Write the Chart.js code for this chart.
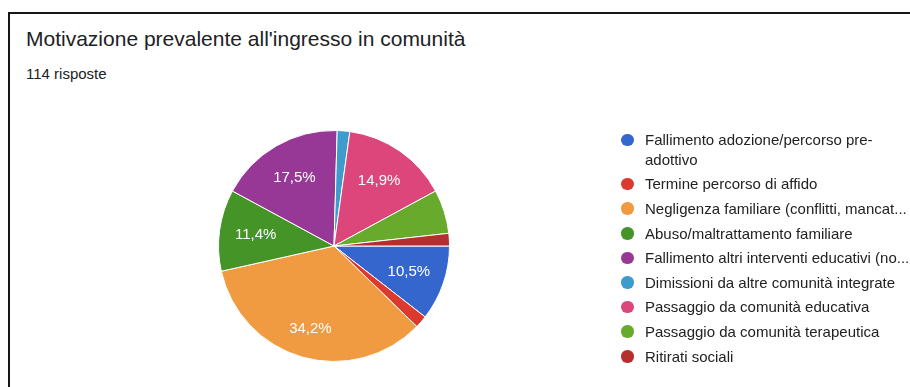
<!DOCTYPE html>
<html lang="it">
<head>
<meta charset="utf-8">
<title>Motivazione prevalente all'ingresso in comunità</title>
<script src="https://cdn.jsdelivr.net/npm/chart.js@4/dist/chart.umd.min.js"></script>
<style>
  html, body { margin: 0; padding: 0; background: #fff; }
  body { width: 910px; height: 387px; position: relative; overflow: hidden;
         font-family: "Liberation Sans", Arial, Helvetica, sans-serif; color: #202124; }
  #frame { position: absolute; left: 8px; top: 12px; width: 1000px; height: 500px;
           border-left: 2px solid #151515; border-top: 2px solid #151515; }
  #title { position: absolute; left: 26px; top: 26px; font-size: 21px; line-height: 26px;
           white-space: nowrap; color: #202124; }
  #subtitle { position: absolute; left: 26px; top: 65px; font-size: 15px; line-height: 18px;
              white-space: nowrap; color: #202124; }
  #chartBox { position: absolute; left: 0; top: 0; width: 910px; height: 387px; }
  #legend { position: absolute; left: 620px; top: 0; width: 400px; }
  .item { position: absolute; left: 0; white-space: nowrap; font-size: 15px; line-height: 19.5px; color: #222; }
  .dot { position: absolute; left: 1px; top: 3.5px; width: 12.5px; height: 12.5px; border-radius: 50%; }
  .txt { position: absolute; left: 25px; top: 0; }
</style>
</head>
<body>
<div id="frame"></div>
<div id="title">Motivazione prevalente all'ingresso in comunità</div>
<div id="subtitle">114 risposte</div>
<div id="chartBox"><canvas id="pie" width="910" height="387"></canvas></div>
<div id="legend"></div>
<script>
// Categorie (in ordine di legenda) e numero di risposte per ciascuna
const categories = [
  "Fallimento adozione/percorso pre-\nadottivo",
  "Termine percorso di affido",
  "Negligenza familiare (conflitti, mancat...",
  "Abuso/maltrattamento familiare",
  "Fallimento altri interventi educativi (no...",
  "Dimissioni da altre comunità integrate",
  "Passaggio da comunità educativa",
  "Passaggio da comunità terapeutica",
  "Ritirati sociali"
];
const responses = [12, 2, 39, 13, 20, 2, 17, 7, 2];
const sliceColors = [
  "#3466CE", "#DC3A2F", "#F09A41", "#449428", "#973897",
  "#3E9BCB", "#DC467A", "#67AA2C", "#B52F2E"
];

const total = responses.reduce((a, b) => a + b, 0);
const pct = v => (v / total * 100).toFixed(1).replace('.', ',') + '%';

// Percentuali scritte dentro gli spicchi più grandi
const sliceLabels = {
  id: 'sliceLabels',
  afterDatasetsDraw(chart) {
    const { ctx } = chart;
    const meta = chart.getDatasetMeta(0);
    ctx.save();
    ctx.fillStyle = '#ffffff';
    ctx.font = '15px "Liberation Sans", Arial, sans-serif';
    ctx.textAlign = 'center';
    ctx.textBaseline = 'middle';
    meta.data.forEach((arc, i) => {
      const v = chart.data.datasets[0].data[i];
      if (v / total < 0.08) return;
      const { startAngle, endAngle, outerRadius, x, y } = arc.getProps(['startAngle', 'endAngle', 'outerRadius', 'x', 'y'], true);
      const mid = (startAngle + endAngle) / 2;
      const span = endAngle - startAngle;
      const d = outerRadius * (span > Math.PI / 2 ? 0.75 : 0.685);
      ctx.fillText(pct(v), x + Math.cos(mid) * d, y + Math.sin(mid) * d);
    });
    ctx.restore();
  }
};

const chart = new Chart(document.getElementById('pie'), {
  type: 'pie',
  data: {
    labels: categories,
    datasets: [{
      data: responses,
      backgroundColor: sliceColors,
      borderColor: '#ffffff',
      borderWidth: 1,
      hoverOffset: 0
    }]
  },
  options: {
    responsive: false,
    animation: false,
    rotation: 90,
    layout: { padding: { left: 218, top: 130, right: 460, bottom: 25 } },
    plugins: {
      legend: { display: false },
      tooltip: { enabled: false },
      title: { display: false }
    },
    events: []
  },
  plugins: [sliceLabels]
});

// Legenda costruita dai dati del grafico
const legend = document.getElementById('legend');
let centerY = 140;
chart.data.labels.forEach((label, i) => {
  const lines = label.split('\n');
  const item = document.createElement('div');
  item.className = 'item';
  item.style.top = (centerY - 9.75) + 'px';
  const dot = document.createElement('span');
  dot.className = 'dot';
  dot.style.background = chart.data.datasets[0].backgroundColor[i];
  const txt = document.createElement('span');
  txt.className = 'txt';
  txt.innerHTML = lines.map(l => l.replace(/&/g, '&amp;').replace(/</g, '&lt;')).join('<br>');
  item.appendChild(dot);
  item.appendChild(txt);
  legend.appendChild(item);
  centerY += 24.6 + (lines.length - 1) * 19.5;
});
</script>
</body>
</html>
